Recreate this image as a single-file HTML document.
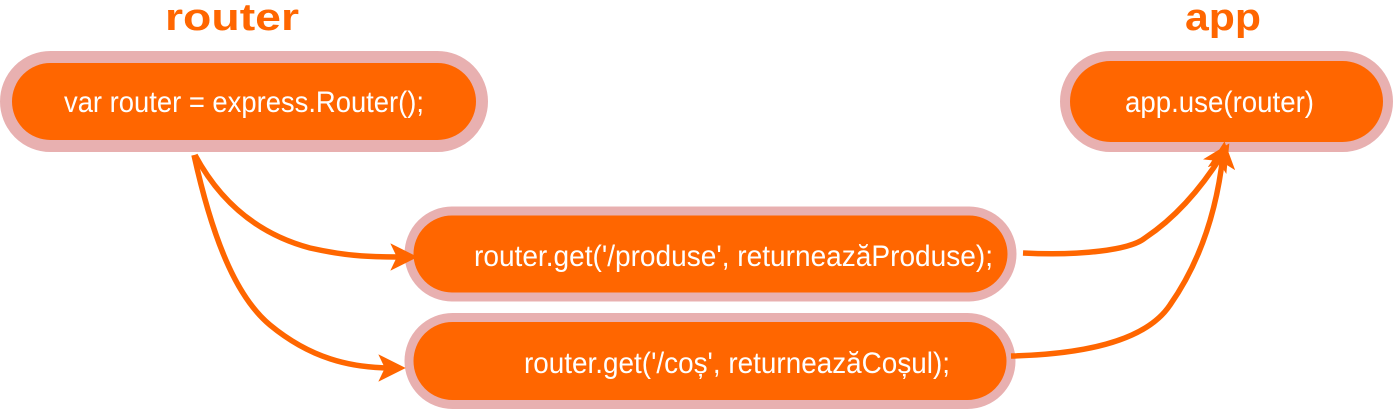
<!DOCTYPE html>
<html><head><meta charset="utf-8"><style>
html,body{margin:0;padding:0;background:#fff;width:1393px;height:409px;overflow:hidden}
svg{display:block}
text{font-family:"Liberation Sans",sans-serif}
</style></head><body>
<svg width="1393" height="409" viewBox="0 0 1393 409" xmlns="http://www.w3.org/2000/svg">
<defs>
<marker id="ah" markerWidth="5" markerHeight="5" refX="2.5" refY="2.5" orient="auto" markerUnits="strokeWidth">
<path d="M0,0 L5,2.5 L0,5 L1.2,2.5 Z" fill="#ff6600"/></marker>
</defs>
<g fill="#ff6600" font-weight="bold" font-size="38">
<text x="232" y="30" text-anchor="middle" textLength="134" lengthAdjust="spacingAndGlyphs">router</text>
<text x="1223" y="30" text-anchor="middle" textLength="76" lengthAdjust="spacingAndGlyphs">app</text>
</g>
<rect x="6" y="57" width="476" height="89" rx="44.5" fill="#ff6600" stroke="#e8b0b0" stroke-width="12"/>
<rect x="1065" y="56" width="323" height="91" rx="45.5" fill="#ff6600" stroke="#e8b0b0" stroke-width="10"/>
<rect x="409" y="211" width="603" height="86" rx="43" fill="#ff6600" stroke="#e8b0b0" stroke-width="9"/>
<rect x="409" y="317.5" width="602" height="87" rx="43.5" fill="#ff6600" stroke="#e8b0b0" stroke-width="9"/>
<g fill="#fff" font-size="30">
<text x="64" y="112" textLength="360" lengthAdjust="spacingAndGlyphs">var router = express.Router();</text>
<text x="1125" y="112" textLength="189" lengthAdjust="spacingAndGlyphs">app.use(router)</text>
<text x="474" y="266" textLength="519" lengthAdjust="spacingAndGlyphs">router.get('/produse', returneazăProduse);</text>
<text x="524" y="373" textLength="426" lengthAdjust="spacingAndGlyphs">router.get('/coș', returneazăCoșul);</text>
</g>
<g fill="none" stroke="#ff6600" stroke-width="5.5">
<path d="M195,155 C230,220 280,240 310,248 C350,257 375,257 404,257" marker-end="url(#ah)"/>
<path d="M194,155 C215,250 240,300 270,325 C310,358 350,368 392,368" marker-end="url(#ah)"/>
<path d="M1023,253 C1080,256 1130,250 1145,238 C1175,218 1200,190 1222,155" marker-end="url(#ah)"/>
<path d="M1011,356 C1100,354 1150,335 1170,305 C1205,255 1218,200 1223,155" marker-end="url(#ah)"/>
</g>
</svg>
</body></html>
